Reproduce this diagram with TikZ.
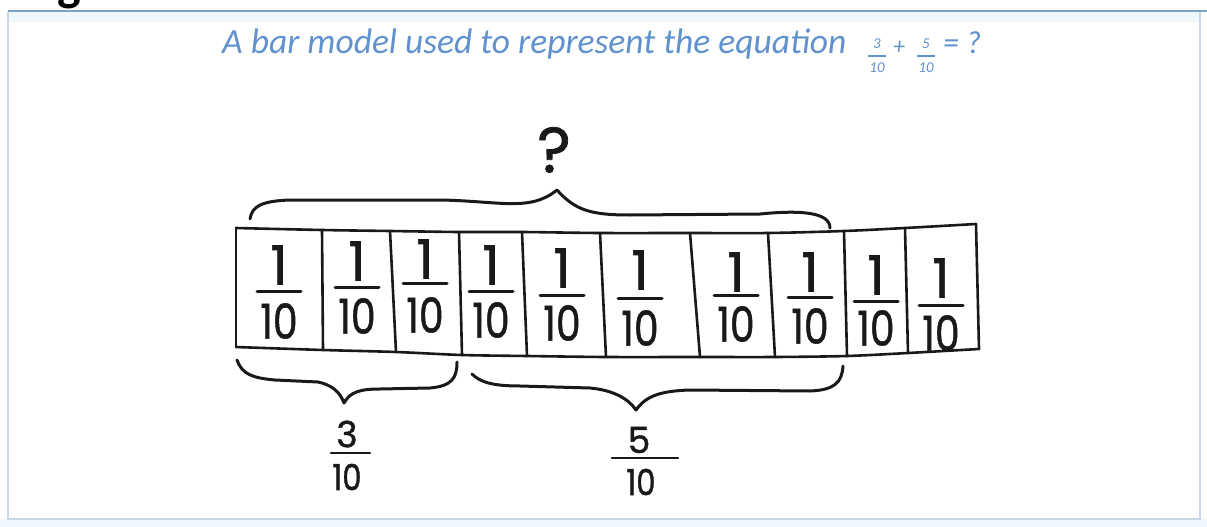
\documentclass[tikz,border=0pt]{standalone}
\usepackage{fontspec}
\newfontfamily\handfont[FakeBold=1.2]{Poppins}
\newfontfamily\calfont{Carlito}
\definecolor{titleblue}{RGB}{96,146,206}
\definecolor{framedark}{RGB}{125,160,200}
\definecolor{framelight}{RGB}{200,214,230}
\definecolor{pale}{RGB}{240,247,252}
\definecolor{ink}{RGB}{25,25,25}
\tikzset{
  ink/.style={draw=ink, line width=2.6pt, line cap=round, line join=round},
  brace/.style={draw=ink, line width=3pt, line cap=round, line join=round},
  numr/.style={text=ink, inner sep=0pt, font=\handfont\fontsize{54}{56}\selectfont},
  denr/.style={text=ink, inner sep=0pt, font=\handfont\fontsize{48}{50}\selectfont},
  lab/.style={text=ink, inner sep=0pt, font=\handfont\fontsize{36}{40}\selectfont},
  fbar/.style={draw=ink, line width=3pt, line cap=round},
  tsmall/.style={text=titleblue, inner sep=0pt, font=\calfont\itshape\fontsize{15}{16}\selectfont},
  tbar/.style={draw=titleblue, line width=1.2pt}
}
\newcommand\cellfrac[5]{%
  \node[numr] (#1n) at (#2,#3) {1};
  \node[denr] (#1d) at (#2,#5) {\scalebox{0.82}[1]{10}};
  \draw[fbar] (#2-22,#4) -- (#2+22,#4);
}
\begin{document}
\begin{tikzpicture}[x=1pt,y=-1pt]
\useasboundingbox (0,0) rectangle (1207,527);
\clip (0,0) rectangle (1207,527);
% frame
\fill[pale] (0,519) rectangle (1207,527);
\fill[pale] (9,12) rectangle (1199,22);
\draw[framelight, line width=1.5pt] (8,12) -- (8,519) -- (1200,519) -- (1200,12);
\draw[framedark, line width=2.5pt] (8,11) -- (1207,11);
% cropped heading text (cut by the top edge, as in the reference)
\node[anchor=base west, inner sep=0pt, font=\calfont\bfseries\fontsize{50}{52}\selectfont] (head) at (30,1) {ng};
% title
\node[anchor=base west, inner sep=0pt, text=titleblue, font=\calfont\itshape\fontsize{35.5}{40}\selectfont] (title) at (222,53) {A bar model used to represent the equation};
\node[tsmall] (f1n) at (877,44) {3};
\draw[tbar] (868,56) -- (886,56);
\node[tsmall] (f1d) at (877,68) {10};
\node[anchor=base, inner sep=0pt, text=titleblue, font=\calfont\itshape\fontsize{24}{26}\selectfont] (plus) at (899,55) {+};
\node[tsmall] (f2n) at (926,44) {5};
\draw[tbar] (917,56) -- (935,56);
\node[tsmall] (f2d) at (926,68) {10};
\node[anchor=base west, inner sep=0pt, text=titleblue, font=\calfont\itshape\fontsize{32}{36}\selectfont] (eq) at (943,53) {= ?};
% question mark and top brace
\node[inner sep=0pt, text=ink, font=\handfont\fontsize{64}{66}\selectfont] (q) at (554,150) {?};
\draw[brace] (250,219) .. controls (252,206) and (262,201) .. (290,200)
  -- (440,200) .. controls (500,201) and (530,212) .. (557,190)
  .. controls (575,210) and (590,215) .. (630,215)
  -- (760,214) .. controls (800,210) and (830,212) .. (830,228);
% bar
\foreach \i/\x/\y in {0/236/228,1/322/230,2/390/231,3/459/232,4/522/232,5/600/233,6/690/233,7/768/233,8/844/231,9/905/228,10/976/224}
  \coordinate (t\i) at (\x,\y);
\foreach \i/\x/\y in {0/236/347,1/323/350,2/396/352,3/462/355,4/527/356,5/606/357,6/700/357,7/775/357,8/847/356,9/908/353,10/979/349}
  \coordinate (b\i) at (\x,\y);
\draw[ink] plot[smooth] coordinates {(t0) (t1) (t2) (t3) (t4) (t5) (t6) (t7) (t8) (t9) (t10)};
\draw[ink] plot[smooth] coordinates {(b0) (b1) (b2) (b3) (b4) (b5) (b6) (b7) (b8) (b9) (b10)};
\foreach \i in {0,...,10} \draw[ink] (t\i) -- (b\i);
% fractions in cells
\cellfrac{c1}{279}{265}{291}{321}
\cellfrac{c2}{357}{261}{287}{316}
\cellfrac{c3}{425}{259}{283}{315}
\cellfrac{c4}{491}{265}{291}{320}
\cellfrac{c5}{562}{268}{295}{323}
\cellfrac{c6}{640}{270}{298}{328}
\cellfrac{c7}{736}{272}{295}{324}
\cellfrac{c8}{810}{272}{297}{326}
\cellfrac{c9}{876}{275}{301}{328}
\cellfrac{c10}{941}{278}{305}{333}
% bottom braces
\draw[brace] (237,360) .. controls (242,374) and (252,378) .. (275,380)
  -- (318,382) .. controls (332,385) and (340,392) .. (344,403)
  .. controls (350,392) and (360,389) .. (380,389)
  -- (430,388) .. controls (452,386) and (457,378) .. (457,362);
\draw[brace] (472,374) .. controls (480,382) and (492,386) .. (520,386)
  -- (590,388) .. controls (612,390) and (628,398) .. (636,410)
  .. controls (646,396) and (660,391) .. (690,390)
  -- (810,391) .. controls (835,390) and (842,382) .. (843,366);
% labels
\node[lab] (l3n) at (347,434) {3};
\draw[fbar, line width=2.4pt] (331,453) -- (370,453);
\node[lab] (l3d) at (347,477) {\scalebox{0.85}[1]{10}};
\node[lab] (l5n) at (639,440) {5};
\draw[fbar, line width=2.4pt] (612,458) -- (678,458);
\node[lab] (l5d) at (641,482) {\scalebox{0.85}[1]{10}};
\end{tikzpicture}
\end{document}
